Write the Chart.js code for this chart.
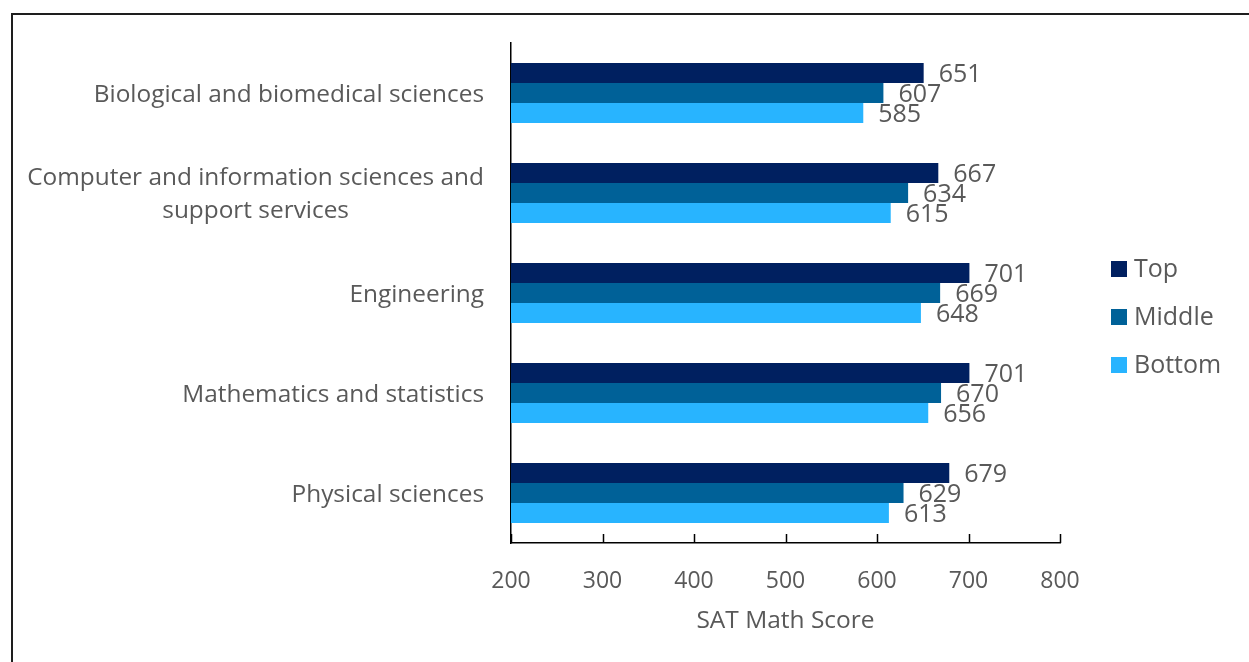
<!DOCTYPE html>
<html>
<head>
<meta charset="utf-8">
<title>SAT Math Score by major</title>
<script src="https://cdn.jsdelivr.net/npm/chart.js@4/dist/chart.umd.min.js"></script>
<style>
  body { margin: 0; background: #fff; }
  #wrap { position: relative; width: 1249px; height: 662px; }
  #frame { position: absolute; left: 11px; top: 13px; right: 0; bottom: 0;
           border-top: 2px solid #1e1e1e; border-left: 2px solid #1e1e1e; pointer-events: none; }
</style>
</head>
<body>
<div id="wrap">
  <canvas id="bar-chart" width="1249" height="662"></canvas>
  <div id="frame"></div>
</div>
<script>
// categories (each label split into its lines)
var categories = [
    ['Biological and biomedical sciences'],
    ['Computer and information sciences and', 'support services'],
    ['Engineering'],
    ['Mathematics and statistics'],
    ['Physical sciences']
];
var series_names = ['Top', 'Middle', 'Bottom'];
var top_scores = [651, 667, 701, 701, 679];
var middle_scores = [607, 634, 669, 670, 629];
var bottom_scores = [585, 615, 648, 656, 613];
var x_ticks = [200, 300, 400, 500, 600, 700, 800];
var x_title = 'SAT Math Score';

var colors = ['#002060', '#006198', '#28b4ff'];
var text_color = '#595959';
var font_family = '"Open Sans", "Liberation Sans", sans-serif';

// value labels, category labels, inside tick marks and the legend
var extras = {
    id: 'extras',
    afterDraw: function(chart) {
        var ctx = chart.ctx;
        var area = chart.chartArea;
        ctx.save();
        ctx.fillStyle = text_color;
        ctx.textBaseline = 'middle';

        // value labels at the end of each bar
        ctx.font = '25px ' + font_family;
        ctx.textAlign = 'left';
        chart.data.datasets.forEach(function(ds, i) {
            chart.getDatasetMeta(i).data.forEach(function(bar, j) {
                ctx.fillText(ds.data[j], bar.x + 15, bar.y + 2);
            });
        });

        // category labels: right aligned block, lines centred inside it
        ctx.font = '24.4px ' + font_family;
        var yScale = chart.scales.y;
        var right = area.left - 27;
        ctx.textAlign = 'center';
        categories.forEach(function(lines, j) {
            var w = 0;
            lines.forEach(function(l) { w = Math.max(w, ctx.measureText(l).width); });
            var cy = yScale.getPixelForValue(j);
            var lh = 33;
            lines.forEach(function(l, k) {
                ctx.fillText(l, right - w / 2, cy + 2 + (k - (lines.length - 1) / 2) * lh);
            });
        });

        // tick marks pointing inside the plot
        var xScale = chart.scales.x;
        ctx.strokeStyle = '#000';
        ctx.lineWidth = 1.5;
        ctx.beginPath();
        x_ticks.forEach(function(v) {
            var px = Math.round(xScale.getPixelForValue(v)) + 0.5;
            ctx.moveTo(px, area.bottom - 9);
            ctx.lineTo(px, area.bottom);
        });
        ctx.stroke();

        // legend
        ctx.font = '25px ' + font_family;
        ctx.textAlign = 'left';
        chart.data.datasets.forEach(function(ds, i) {
            var cy = 269 + i * 48;
            ctx.fillStyle = ds.backgroundColor;
            ctx.fillRect(area.right + 51, cy - 8, 16, 16);
            ctx.fillStyle = text_color;
            ctx.fillText(ds.label, area.right + 74, cy + 1);
        });
        ctx.restore();
    }
};

var bar_chart = new Chart(document.getElementById('bar-chart'), {
    type: 'bar',
    data: {
        labels: categories.map(function(l) { return l.join(' '); }),
        datasets: [
            { label: series_names[0], data: top_scores, backgroundColor: colors[0] },
            { label: series_names[1], data: middle_scores, backgroundColor: colors[1] },
            { label: series_names[2], data: bottom_scores, backgroundColor: colors[2] }
        ]
    },
    options: {
        indexAxis: 'y',
        responsive: false,
        animation: false,
        categoryPercentage: 0.6,
        barPercentage: 1.0,
        layout: { padding: { top: 43, right: 189, bottom: 0, left: 0 } },
        plugins: {
            legend: { display: false },
            tooltip: { enabled: false }
        },
        scales: {
            x: {
                min: 200,
                max: 800,
                afterBuildTicks: function(scale) {
                    scale.ticks = x_ticks.map(function(v) { return { value: v }; });
                },
                afterFit: function(scale) { scale.height = 119; },
                grid: { display: false, drawTicks: false },
                border: { display: true, color: '#000', width: 1.5 },
                ticks: { color: text_color, font: { size: 23, family: font_family }, padding: 25 },
                title: {
                    display: true,
                    text: x_title,
                    color: text_color,
                    font: { size: 24.5, family: font_family },
                    padding: { top: 4, bottom: 26 }
                }
            },
            y: {
                afterFit: function(scale) { scale.width = 511; },
                grid: { display: false, drawTicks: false },
                border: { display: true, color: '#000', width: 1.5 },
                ticks: { display: false }
            }
        }
    },
    plugins: [extras]
});
</script>
</body>
</html>
